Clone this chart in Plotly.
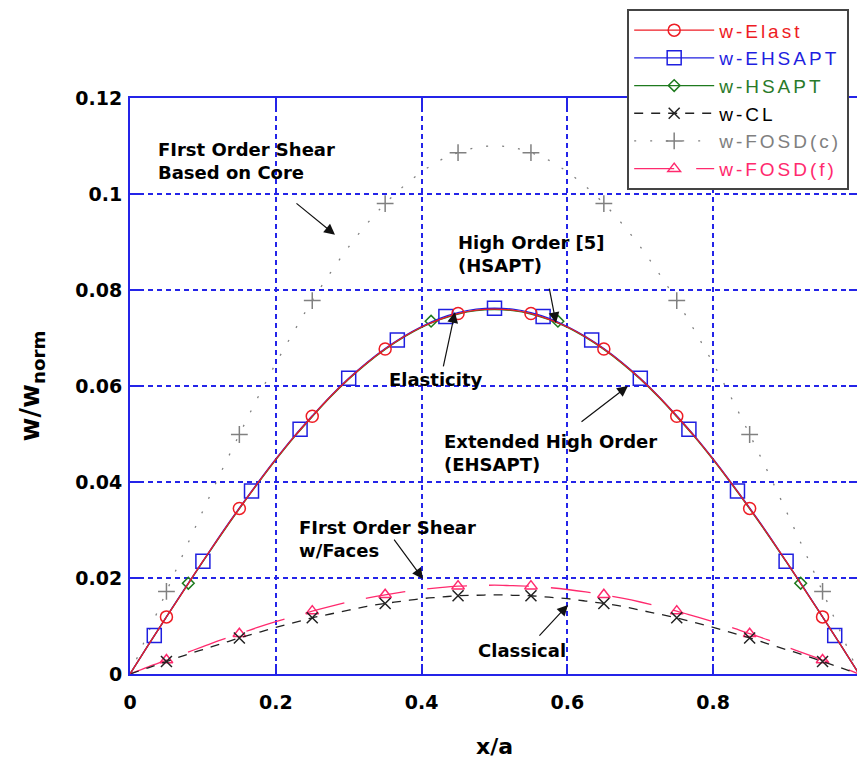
import plotly.graph_objects as go

# ---------------- data ----------------
x_line = [0.0, 0.025, 0.05, 0.075, 0.1, 0.125, 0.15, 0.175, 0.2, 0.225, 0.25, 0.275, 0.3, 0.325,
          0.35, 0.375, 0.4, 0.425, 0.45, 0.475, 0.5, 0.525, 0.55, 0.575, 0.6, 0.625, 0.65, 0.675,
          0.7, 0.725, 0.75, 0.775, 0.8, 0.825, 0.85, 0.875, 0.9, 0.925, 0.95, 0.975, 1.0]

w_elast = [0.0, 0.0060, 0.0119, 0.0177, 0.0235, 0.0291, 0.0345, 0.0397, 0.0447, 0.0494, 0.0537,
           0.0578, 0.0615, 0.0648, 0.0677, 0.0702, 0.0723, 0.0739, 0.0751, 0.0758, 0.0760,
           0.0758, 0.0751, 0.0739, 0.0723, 0.0702, 0.0677, 0.0648, 0.0615, 0.0578, 0.0537,
           0.0494, 0.0447, 0.0397, 0.0345, 0.0291, 0.0235, 0.0177, 0.0119, 0.0060, 0.0]
w_ehsapt = [0.0, 0.0060, 0.0119, 0.0178, 0.0235, 0.0292, 0.0346, 0.0398, 0.0448, 0.0495, 0.0538,
            0.0579, 0.0616, 0.0649, 0.0678, 0.0703, 0.0724, 0.0741, 0.0753, 0.0760, 0.0762,
            0.0760, 0.0753, 0.0741, 0.0724, 0.0703, 0.0678, 0.0649, 0.0616, 0.0579, 0.0538,
            0.0495, 0.0448, 0.0398, 0.0346, 0.0292, 0.0235, 0.0178, 0.0119, 0.0060, 0.0]
w_hsapt = [0.0, 0.0060, 0.0119, 0.0177, 0.0234, 0.0290, 0.0344, 0.0396, 0.0446, 0.0493, 0.0536,
           0.0577, 0.0614, 0.0647, 0.0676, 0.0701, 0.0722, 0.0738, 0.0750, 0.0757, 0.0759,
           0.0757, 0.0750, 0.0738, 0.0722, 0.0701, 0.0676, 0.0647, 0.0614, 0.0577, 0.0536,
           0.0493, 0.0446, 0.0396, 0.0344, 0.0290, 0.0234, 0.0177, 0.0119, 0.0060, 0.0]
w_cl = [0.0, 0.0013, 0.0026, 0.0039, 0.0051, 0.0063, 0.0075, 0.0086, 0.0097, 0.0107, 0.0117,
        0.0125, 0.0133, 0.0141, 0.0147, 0.0152, 0.0157, 0.0160, 0.0163, 0.0164, 0.0165,
        0.0164, 0.0163, 0.0160, 0.0157, 0.0152, 0.0147, 0.0141, 0.0133, 0.0125, 0.0117,
        0.0107, 0.0097, 0.0086, 0.0075, 0.0063, 0.0051, 0.0039, 0.0026, 0.0013, 0.0]
w_fosd_c = [0.0, 0.0086, 0.0172, 0.0257, 0.0340, 0.0421, 0.0499, 0.0575, 0.0647, 0.0714, 0.0778,
            0.0836, 0.0890, 0.0938, 0.0980, 0.1016, 0.1046, 0.1070, 0.1086, 0.1097, 0.1100,
            0.1097, 0.1086, 0.1070, 0.1046, 0.1016, 0.0980, 0.0938, 0.0890, 0.0836, 0.0778,
            0.0714, 0.0647, 0.0575, 0.0499, 0.0421, 0.0340, 0.0257, 0.0172, 0.0086, 0.0]
w_fosd_f = [0.0, 0.0015, 0.0029, 0.0043, 0.0057, 0.0071, 0.0084, 0.0097, 0.0109, 0.0120, 0.0131,
            0.0141, 0.0150, 0.0158, 0.0165, 0.0171, 0.0176, 0.0180, 0.0183, 0.0184, 0.0185,
            0.0184, 0.0183, 0.0180, 0.0176, 0.0171, 0.0165, 0.0158, 0.0150, 0.0141, 0.0131,
            0.0120, 0.0109, 0.0097, 0.0084, 0.0071, 0.0057, 0.0043, 0.0029, 0.0015, 0.0]

# marker positions
x_mk10 = [0.05, 0.15, 0.25, 0.35, 0.45, 0.55, 0.65, 0.75, 0.85, 0.95]
elast_mk = [0.0119, 0.0345, 0.0537, 0.0677, 0.0751, 0.0751, 0.0677, 0.0537, 0.0345, 0.0119]
cl_mk = [0.0026, 0.0075, 0.0117, 0.0147, 0.0163, 0.0163, 0.0147, 0.0117, 0.0075, 0.0026]
fosd_c_mk = [0.0172, 0.0499, 0.0778, 0.0980, 0.1086, 0.1086, 0.0980, 0.0778, 0.0499, 0.0172]
fosd_f_mk = [0.0029, 0.0084, 0.0131, 0.0165, 0.0183, 0.0183, 0.0165, 0.0131, 0.0084, 0.0029]
x_ehs_mk = [0.0333, 0.1, 0.1667, 0.2333, 0.3, 0.3667, 0.4333, 0.5, 0.5667, 0.6333, 0.7,
            0.7667, 0.8333, 0.9, 0.9667]
ehsapt_mk = [0.0080, 0.0235, 0.0381, 0.0510, 0.0616, 0.0696, 0.0745, 0.0762, 0.0745, 0.0696,
             0.0616, 0.0510, 0.0381, 0.0235, 0.0080]
x_hs_mk = [0.08, 0.413, 0.587, 0.92]
hsapt_mk = [0.0189, 0.0735, 0.0735, 0.0189]

x_ticks = [0, 0.2, 0.4, 0.6, 0.8, 1]
y_ticks = [0, 0.02, 0.04, 0.06, 0.08, 0.1, 0.12]

# annotation texts: (text, x, y)
labels = [
    ("FIrst Order Shear<br>Based on Core", 0.036, 0.1069),
    ("High Order [5]<br>(HSAPT)", 0.4466, 0.0875),
    ("Elasticity", 0.352, 0.0613),
    ("Extended High Order<br>(EHSAPT)", 0.4274, 0.0460),
    ("FIrst Order Shear<br>w/Faces", 0.2285, 0.0281),
    ("Classical", 0.474, 0.0050),
]
# arrows: (tail_x, tail_y, tip_x, tip_y)
arrows = [
    (0.2263, 0.0983, 0.2812, 0.0915),
    (0.5748, 0.0806, 0.5844, 0.0731),
    (0.4294, 0.0638, 0.4458, 0.0754),
    (0.6173, 0.0523, 0.6831, 0.0600),
    (0.3608, 0.0283, 0.4019, 0.0198),
    (0.5597, 0.0077, 0.6008, 0.0144),
]

# ---------------- styles ----------------
RED = "#ee1c24"
BLUE = "#1f1fe0"
GREEN = "#1e7a1e"
BLACK = "#222222"
GRAY = "#808080"
PINK = "#ff2a6e"
AXBLUE = "#2424e8"
BOLDFONT = "DejaVu Sans, Liberation Sans, Arial, sans-serif"
LEGFONT = "Liberation Sans, Arial, sans-serif"

series = [
    # name, text color, color, dash, x_line, y_line, x_mk, y_mk, symbol, size
    ("w-Elast", RED, RED, "solid", x_line, w_elast, x_mk10, elast_mk, "circle-open", 12),
    ("w-EHSAPT", BLUE, BLUE, "solid", x_line, w_ehsapt, x_ehs_mk, ehsapt_mk, "square-open", 14),
    ("w-HSAPT", "#2a7a2a", GREEN, "solid", x_line, w_hsapt, x_hs_mk, hsapt_mk, "diamond-open", 9),
    ("w-CL", "#000000", BLACK, "9px,8px", x_line, w_cl, x_mk10, cl_mk, "x-thin-open", 11),
    ("w-FOSD(c)", GRAY, GRAY, "2px,14px", x_line, w_fosd_c, x_mk10, fosd_c_mk, "cross-thin-open", 12),
    ("w-FOSD(f)", PINK, PINK, "40px,22px", x_line, w_fosd_f, x_mk10, fosd_f_mk, "triangle-up-open", 11),
]

fig = go.Figure()

# legend entries
for name, tcol, col, dash, xl, yl, xm, ym, sym, sz in series:
    fig.add_trace(go.Scatter(
        x=[None], y=[None], mode="lines+markers",
        name=f'<span style="color:{tcol};letter-spacing:3px">{name}</span>',
        line=dict(color=col, width=1.3, dash=dash),
        marker=dict(symbol=sym, size=sz, color=col, line=dict(color=col, width=1.5)),
        legendgroup=name, showlegend=True,
    ))

# data lines and markers (draw bottom series first)
for name, tcol, col, dash, xl, yl, xm, ym, sym, sz in reversed(series):
    fig.add_trace(go.Scatter(
        x=xl, y=yl, mode="lines", line=dict(color=col, width=1.3, dash=dash, shape="spline"),
        legendgroup=name, showlegend=False, hoverinfo="skip",
    ))
    fig.add_trace(go.Scatter(
        x=xm, y=ym, mode="markers",
        marker=dict(symbol=sym, size=sz, color=col, line=dict(color=col, width=1.5)),
        legendgroup=name, showlegend=False,
    ))

annotations = []
for text, x, y in labels:
    annotations.append(dict(
        x=x, y=y, xref="x", yref="y", text=f"<b>{text}</b>", showarrow=False,
        xanchor="left", yanchor="middle", align="left",
        font=dict(family=BOLDFONT, size=18, color="#000000"),
    ))
for tx, ty, hx, hy in arrows:
    annotations.append(dict(
        x=hx, y=hy, xref="x", yref="y", ax=tx, ay=ty, axref="x", ayref="y",
        text="", showarrow=True, arrowhead=2, arrowsize=1.8, arrowwidth=1.2,
        arrowcolor="#111111", standoff=0, startstandoff=0,
    ))

axis_common = dict(
    showline=True, linecolor=AXBLUE, linewidth=2, mirror="ticks",
    ticks="inside", ticklen=10, tickwidth=1.5, tickcolor=AXBLUE,
    showgrid=True, gridcolor=AXBLUE, gridwidth=1.5, griddash="5px,4px",
    zeroline=False, automargin=False,
    tickfont=dict(family=BOLDFONT, size=19, color="#000000", weight="bold"),
)

# the page adds an 8px body margin, so the figure is sized/margined to compensate
fig.update_layout(
    width=857, height=751,
    margin=dict(l=122, r=6, t=90, b=85, autoexpand=False),
    paper_bgcolor="white", plot_bgcolor="white",
    font=dict(family=BOLDFONT, color="#000000"),
    xaxis=dict(range=[0, 1], tickvals=x_ticks, ticktext=[str(v) for v in x_ticks],
               title=dict(text="<b>x/a</b>", font=dict(family=BOLDFONT, size=22), standoff=30),
               ticklabelstandoff=10, **axis_common),
    yaxis=dict(range=[0, 0.12], tickvals=y_ticks, ticktext=[str(v) for v in y_ticks],
               title=dict(text="<b>w/w<sub>norm</sub></b>", font=dict(family=BOLDFONT, size=26), standoff=28),
               ticklabelstandoff=2, **axis_common),
    legend=dict(x=0.682, y=1.154, xanchor="left", yanchor="top",
                bgcolor="white", bordercolor="#444444", borderwidth=2,
                font=dict(family=LEGFONT, size=19), tracegroupgap=0,
                itemwidth=80),
    annotations=annotations,
    showlegend=True,
)

fig.write_html("out.html")
